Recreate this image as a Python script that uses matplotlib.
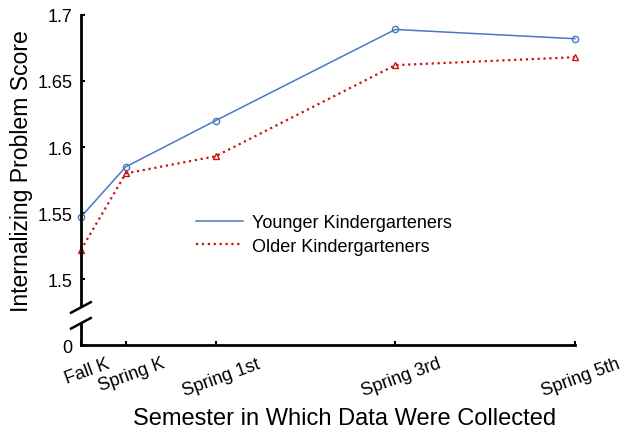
import matplotlib.pyplot as plt
from matplotlib.lines import Line2D
from matplotlib.transforms import ScaledTranslation

plt.rcParams['font.family'] = ['Liberation Sans', 'DejaVu Sans']

# Data
semesters = ['Fall K', 'Spring K', 'Spring 1st', 'Spring 3rd', 'Spring 5th']
semester_pos = [0, 1, 3, 7, 11]
younger = [1.547, 1.585, 1.620, 1.689, 1.682]
older = [1.522, 1.580, 1.593, 1.662, 1.668]
y_ticks = [1.45, 1.5, 1.55, 1.6, 1.65, 1.7]
y_tick_labels = ['0', '1.5', '1.55', '1.6', '1.65', '1.7']

blue = '#4a78c2'
red = '#cc1111'

fig = plt.figure(figsize=(6.27, 4.31), dpi=100)
ax = fig.add_axes([0.129, 0.197, 0.788, 0.766])

ax.plot(semester_pos, younger, color=blue, lw=1.1, marker='o', ms=4.5,
        mfc='none', mew=1.0, clip_on=False)
ax.plot(semester_pos, older, color=red, lw=1.6, ls=':', marker='^', ms=4.5,
        mfc='none', mew=1.0, clip_on=False)

ax.set_xlim(0, 11)
ax.set_ylim(1.45, 1.70)
ax.set_xticks(semester_pos)
ax.set_xticklabels(semesters, rotation=20, ha='center', fontsize=13)
ax.set_yticks(y_ticks)
ax.set_yticklabels(y_tick_labels, fontsize=13)
ax.tick_params(direction='in', length=3, width=1.5, pad=6)
ax.tick_params(axis='x', pad=7)
shift = ScaledTranslation(6 / 100, 0, fig.dpi_scale_trans)
for lab in ax.get_xticklabels():
    lab.set_transform(lab.get_transform() + shift)

for s in ['top', 'right']:
    ax.spines[s].set_visible(False)
for s in ['left', 'bottom']:
    ax.spines[s].set_linewidth(2)

# axis break on the y axis
trans = ax.get_yaxis_transform()
ax.add_patch(plt.Rectangle((-0.01, 1.4685), 0.02, 0.0095, transform=trans,
                           color='white', clip_on=False, zorder=5))
for yb in [1.4785, 1.4665]:
    ax.plot([-0.02, 0.02], [yb - 0.004, yb + 0.004], transform=trans,
            color='black', lw=1.8, clip_on=False, zorder=6)

ax.set_xlabel('Semester in Which Data Were Collected', fontsize=17)
ax.set_ylabel('Internalizing Problem Score', fontsize=16.6)
ax.xaxis.set_label_coords(0.534, -0.188)
ax.yaxis.set_label_coords(-0.097, 0.53)

handles = [Line2D([], [], color=blue, lw=1.1),
           Line2D([], [], color=red, lw=1.6, ls=':')]
ax.legend(handles, ['Younger Kindergarteners', 'Older Kindergarteners'],
          loc='upper left', bbox_to_anchor=(0.2, 0.445), frameon=False,
          fontsize=13, handlelength=2.6, handletextpad=0.5, labelspacing=0.35)

fig.savefig('out.png', dpi=100)
